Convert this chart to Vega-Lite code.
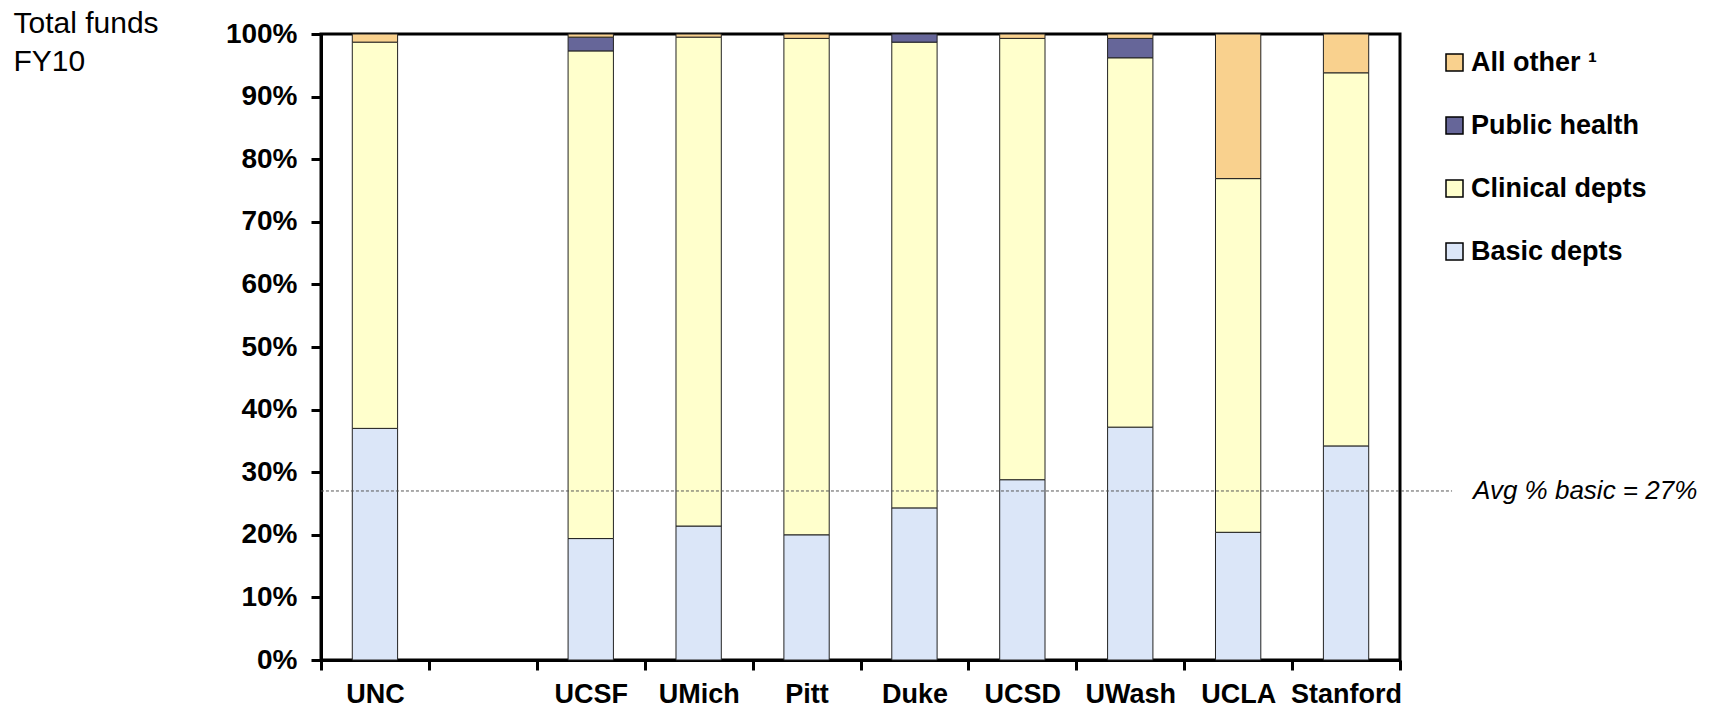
{
  "$schema": "https://vega.github.io/schema/vega-lite/v6.json",
  "autosize": {"type": "none"},
  "width": 1079,
  "height": 626,
  "padding": {"left": 321, "top": 34, "right": 323, "bottom": 50},
  "background": "white",
  "config": {
    "font": "Liberation Sans",
    "view": {"stroke": "black", "strokeWidth": 3},
    "axis": {
      "domainColor": "black",
      "domainWidth": 3,
      "tickColor": "black",
      "tickWidth": 3,
      "tickSize": 10,
      "labelFont": "Liberation Sans",
      "labelFontSize": 27,
      "labelFontWeight": "bold",
      "labelColor": "black",
      "grid": false
    }
  },
  "datasets": {
    "funds": [
      {"school": "UNC", "part": "Basic depts", "share": 37.0},
      {"school": "UNC", "part": "Clinical depts", "share": 61.7},
      {"school": "UNC", "part": "All other ¹", "share": 1.3},
      {"school": "UCSF", "part": "Basic depts", "share": 19.4},
      {"school": "UCSF", "part": "Clinical depts", "share": 77.9},
      {"school": "UCSF", "part": "Public health", "share": 2.2},
      {"school": "UCSF", "part": "All other ¹", "share": 0.5},
      {"school": "UMich", "part": "Basic depts", "share": 21.4},
      {"school": "UMich", "part": "Clinical depts", "share": 78.1},
      {"school": "UMich", "part": "All other ¹", "share": 0.5},
      {"school": "Pitt", "part": "Basic depts", "share": 20.0},
      {"school": "Pitt", "part": "Clinical depts", "share": 79.3},
      {"school": "Pitt", "part": "All other ¹", "share": 0.7},
      {"school": "Duke", "part": "Basic depts", "share": 24.3},
      {"school": "Duke", "part": "Clinical depts", "share": 74.4},
      {"school": "Duke", "part": "Public health", "share": 1.3},
      {"school": "UCSD", "part": "Basic depts", "share": 28.8},
      {"school": "UCSD", "part": "Clinical depts", "share": 70.5},
      {"school": "UCSD", "part": "All other ¹", "share": 0.7},
      {"school": "UWash", "part": "Basic depts", "share": 37.2},
      {"school": "UWash", "part": "Clinical depts", "share": 59.0},
      {"school": "UWash", "part": "Public health", "share": 3.1},
      {"school": "UWash", "part": "All other ¹", "share": 0.7},
      {"school": "UCLA", "part": "Basic depts", "share": 20.4},
      {"school": "UCLA", "part": "Clinical depts", "share": 56.5},
      {"school": "UCLA", "part": "All other ¹", "share": 23.1},
      {"school": "Stanford", "part": "Basic depts", "share": 34.2},
      {"school": "Stanford", "part": "Clinical depts", "share": 59.6},
      {"school": "Stanford", "part": "All other ¹", "share": 6.2}
    ],
    "avg": [
      {"label": "Avg % basic = 27%", "value": 27}
    ]
  },
  "layer": [
    {
      "data": {"name": "funds"},
      "transform": [
        {"calculate": "indexof(['Basic depts', 'Clinical depts', 'Public health', 'All other ¹'], datum.part)", "as": "stackRank"}
      ],
      "mark": {"type": "bar", "stroke": "#222222", "strokeWidth": 1, "width": {"band": 0.42}},
      "encoding": {
        "x": {
          "field": "school",
          "type": "nominal",
          "scale": {
            "domain": ["UNC", " ", "UCSF", "UMich", "Pitt", "Duke", "UCSD", "UWash", "UCLA", "Stanford"],
            "paddingInner": 0,
            "paddingOuter": 0
          },
          "axis": {
            "title": null,
            "labelAngle": 0,
            "tickBand": "extent",
            "labelPadding": 11
          }
        },
        "y": {
          "field": "share",
          "type": "quantitative",
          "stack": "zero",
          "scale": {"domain": [0, 100], "nice": false},
          "axis": {
            "values": [0, 10, 20, 30, 40, 50, 60, 70, 80, 90, 100],
            "labelExpr": "datum.value + '%'",
            "labelFontSize": 28,
            "labelPadding": 14,
            "title": ["Total funds", "FY10"],
            "titleAngle": 0,
            "titleAlign": "left",
            "titleBaseline": "alphabetic",
            "titleX": -308,
            "titleY": -2,
            "titleFont": "Liberation Sans",
            "titleFontSize": 30,
            "titleFontWeight": "normal",
            "titleLineHeight": 38,
            "titleColor": "black"
          }
        },
        "order": {"field": "stackRank", "type": "quantitative", "sort": "ascending"},
        "color": {
          "field": "part",
          "type": "nominal",
          "scale": {
            "domain": ["All other ¹", "Public health", "Clinical depts", "Basic depts"],
            "range": ["#F9D18E", "#666699", "#FFFFCC", "#DBE6F8"]
          },
          "legend": {
            "title": null,
            "orient": "none",
            "legendX": 1120,
            "legendY": 15,
            "symbolType": "square",
            "symbolSize": 289,
            "symbolStrokeColor": "black",
            "symbolStrokeWidth": 1.5,
            "labelFont": "Liberation Sans",
            "labelFontSize": 27,
            "labelFontWeight": "bold",
            "labelColor": "black",
            "labelLimit": 0,
            "labelOffset": 3,
            "rowPadding": 35
          }
        }
      }
    },
    {
      "data": {"name": "avg"},
      "mark": {"type": "rule", "color": "#555555", "strokeWidth": 1, "strokeDash": [3, 2], "xOffset": -54, "x2Offset": 106},
      "encoding": {
        "x": {"datum": "UNC"},
        "x2": {"datum": "Stanford"},
        "y": {"field": "value", "type": "quantitative"}
      }
    },
    {
      "data": {"name": "avg"},
      "mark": {
        "type": "text",
        "align": "left",
        "baseline": "middle",
        "dx": 127,
        "font": "Liberation Sans",
        "fontSize": 26,
        "fontStyle": "italic",
        "color": "black"
      },
      "encoding": {
        "x": {"datum": "Stanford"},
        "y": {"field": "value", "type": "quantitative"},
        "text": {"field": "label"}
      }
    }
  ]
}
